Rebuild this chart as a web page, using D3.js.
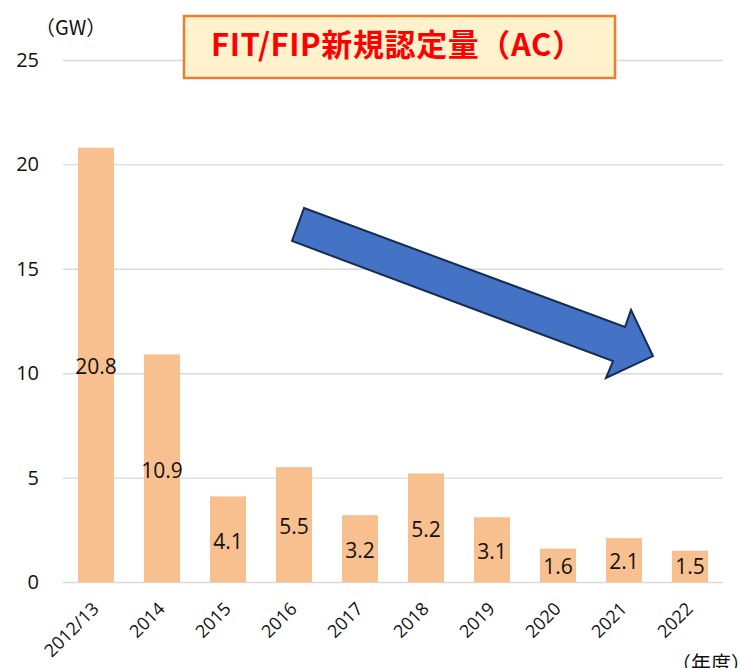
<!DOCTYPE html>
<html>
<head>
<meta charset="utf-8">
<script src="https://cdn.jsdelivr.net/npm/d3@7"></script>
<style>
  body { margin: 0; background: #fff; overflow: hidden; }
  svg { display: block; font-family: "Open Sans", "Noto Sans", sans-serif; }
</style>
</head>
<body>
<div id="wrapper"></div>
<script>
// data
const years = ["2012/13", "2014", "2015", "2016", "2017", "2018", "2019", "2020", "2021", "2022"];
const values = [20.8, 10.9, 4.1, 5.5, 3.2, 5.2, 3.1, 1.6, 2.1, 1.5];
const yTicks = [0, 5, 10, 15, 20, 25];
// trend arrow, in [band position, GW] units
const arrowPoints = [
  [3.652, 17.91], [8.515, 12.21], [8.606, 13.03], [8.939, 10.82],
  [8.227, 9.77], [8.333, 10.58], [3.470, 16.33],
];
const titleText = "FIT/FIP新規認定量（AC）";

function drawChart() {
  const dataset = years.map((y, i) => ({ year: y, value: values[i] }));
  const xAccessor = d => d.year;
  const yAccessor = d => d.value;

  // dimensions
  let dimensions = {
    width: 741,
    height: 668,
    margin: { top: 60, right: 18, bottom: 86, left: 63 },
  };
  dimensions.boundedWidth = dimensions.width - dimensions.margin.left - dimensions.margin.right;
  dimensions.boundedHeight = dimensions.height - dimensions.margin.top - dimensions.margin.bottom;

  const wrapper = d3.select("#wrapper")
    .append("svg")
      .attr("width", dimensions.width)
      .attr("height", dimensions.height);

  const bounds = wrapper.append("g")
    .attr("transform", `translate(${dimensions.margin.left},${dimensions.margin.top})`);

  // scales
  const xScale = d3.scaleBand()
    .domain(years)
    .range([0, dimensions.boundedWidth])
    .paddingInner(0.4545)
    .paddingOuter(0.2273);

  const yScale = d3.scaleLinear()
    .domain([0, 25])
    .range([dimensions.boundedHeight, 0]);

  const posScale = d3.scaleLinear()
    .domain([0, years.length])
    .range([0, dimensions.boundedWidth]);

  // grid + y axis
  const yAxisGenerator = d3.axisLeft(yScale)
    .tickValues(yTicks)
    .tickSize(-dimensions.boundedWidth)
    .tickPadding(24);

  const yAxis = bounds.append("g").call(yAxisGenerator);
  yAxis.select(".domain").remove();
  yAxis.selectAll(".tick line").attr("stroke", "#d9d9d9").attr("stroke-width", 1.4);
  yAxis.selectAll(".tick text")
    .attr("fill", "#111")
    .style("font-size", "20px")
    .style("font-family", "'Open Sans', sans-serif");

  // bars
  bounds.append("g")
    .selectAll("rect")
    .data(dataset)
    .join("rect")
      .attr("x", d => xScale(xAccessor(d)))
      .attr("width", xScale.bandwidth())
      .attr("y", d => yScale(yAccessor(d)))
      .attr("height", d => dimensions.boundedHeight - yScale(yAccessor(d)))
      .attr("fill", "#f8c08f");

  // value labels
  bounds.append("g")
    .selectAll("text")
    .data(dataset)
    .join("text")
      .attr("x", d => xScale(xAccessor(d)) + xScale.bandwidth() / 2)
      .attr("y", d => Math.min((yScale(yAccessor(d)) + dimensions.boundedHeight) / 2 + 2, dimensions.boundedHeight - 15))
      .attr("dy", "0.35em")
      .attr("text-anchor", "middle")
      .attr("fill", "#111")
      .style("font-size", "21px")
      .text(d => yAccessor(d).toFixed(1));

  // x axis labels
  const xAxisGenerator = d3.axisBottom(xScale).tickSize(0).tickPadding(0);
  const xAxis = bounds.append("g")
    .attr("transform", `translate(0,${dimensions.boundedHeight})`)
    .call(xAxisGenerator);
  xAxis.select(".domain").remove();
  xAxis.selectAll(".tick text")
    .attr("text-anchor", "end")
    .attr("fill", "#111")
    .style("font-size", "18px")
    .style("font-family", "'Open Sans', sans-serif")
    .attr("dy", null)
    .attr("y", null)
    .attr("transform", "translate(4,28) rotate(-45)");

  // trend arrow
  const arrowLine = d3.line()
    .x(d => posScale(d[0]))
    .y(d => yScale(d[1]))
    .curve(d3.curveLinearClosed);

  bounds.append("path")
    .attr("d", arrowLine(arrowPoints))
    .attr("fill", "#4472c4")
    .attr("stroke", "#172c51")
    .attr("stroke-width", 2)
    .attr("stroke-linejoin", "miter");

  // unit labels
  wrapper.append("text")
    .attr("x", 35)
    .attr("y", 35)
    .attr("fill", "#111")
    .style("font-size", "20px")
    .style("font-family", "'Noto Sans CJK JP', sans-serif")
    .text("（GW）");

  wrapper.append("text")
    .attr("x", 671)
    .attr("y", 671)
    .attr("fill", "#111")
    .style("font-size", "20px")
    .style("font-family", "'Noto Sans CJK JP', sans-serif")
    .text("（年度）");

  // title box
  const titleGroup = wrapper.append("g");
  titleGroup.append("rect")
    .attr("x", 184)
    .attr("y", 16)
    .attr("width", 431)
    .attr("height", 62)
    .attr("fill", "#fff2cc")
    .attr("stroke", "#ed7d31")
    .attr("stroke-width", 2.5);
  titleGroup.append("text")
    .attr("x", 211)
    .attr("y", 56)
    .attr("fill", "#ff0000")
    .style("font-size", "31px")
    .style("font-weight", "bold")
    .style("letter-spacing", "0.6px")
    .style("font-family", "'Noto Sans CJK JP', sans-serif")
    .text(titleText);
}
drawChart();
</script>
</body>
</html>
